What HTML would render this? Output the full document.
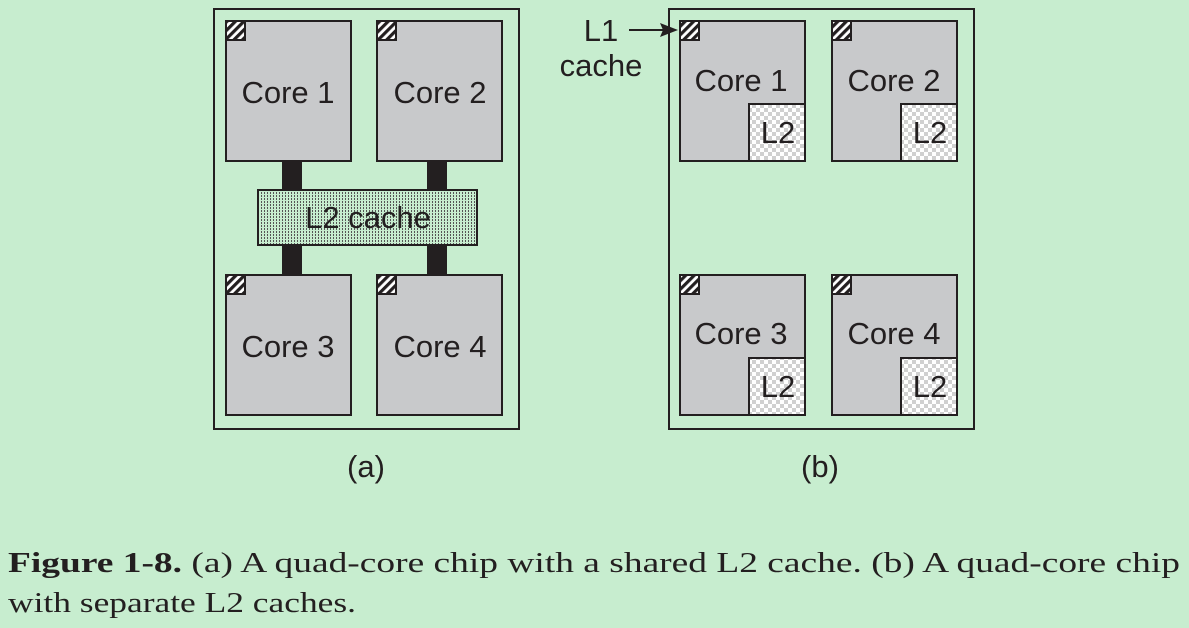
<!DOCTYPE html>
<html><head><meta charset="utf-8"><style>
html,body{margin:0;padding:0;background:#c7edcf;}
svg{display:block}
</style></head><body>
<svg width="1189" height="628" viewBox="0 0 1189 628" xmlns="http://www.w3.org/2000/svg">
<defs>
<pattern id="hatch" width="6" height="6" patternUnits="userSpaceOnUse" patternTransform="rotate(45)">
<rect width="6" height="6" fill="#fff"/><rect width="3.2" height="6" fill="#231f20"/>
</pattern>
<pattern id="dots" width="3" height="3" patternUnits="userSpaceOnUse">
<rect width="3" height="3" fill="#c7edcf"/><rect width="1" height="2" fill="#555"/>
</pattern>
<pattern id="check" width="8" height="8" patternUnits="userSpaceOnUse">
<rect width="8" height="8" fill="#fff"/><rect width="4" height="4" fill="#d0d0d0"/><rect x="4" y="4" width="4" height="4" fill="#d0d0d0"/>
</pattern>
</defs>
<rect width="1189" height="628" fill="#c7edcf"/>
<g stroke="#231f20" stroke-width="2" fill="none">
<rect x="214" y="9" width="305" height="420"/>
<rect x="669" y="9" width="305" height="420"/>
</g>
<g fill="#231f20">
<rect x="282" y="160" width="20" height="116"/>
<rect x="427" y="160" width="20" height="116"/>
</g>
<g stroke="#231f20" stroke-width="2" fill="#c8c9cb">
<rect x="226" y="21" width="125" height="140"/>
<rect x="377" y="21" width="125" height="140"/>
<rect x="226" y="275" width="125" height="140"/>
<rect x="377" y="275" width="125" height="140"/>
<rect x="680" y="21" width="125" height="140"/>
<rect x="832" y="21" width="125" height="140"/>
<rect x="680" y="275" width="125" height="140"/>
<rect x="832" y="275" width="125" height="140"/>
</g>
<rect x="258" y="190" width="219" height="55" fill="url(#dots)" stroke="#231f20" stroke-width="2"/>
<g stroke="#231f20" stroke-width="2" fill="url(#check)">
<rect x="749" y="104" width="56" height="57"/>
<rect x="901" y="104" width="56" height="57"/>
<rect x="749" y="358" width="56" height="57"/>
<rect x="901" y="358" width="56" height="57"/>
</g>
<g stroke="#231f20" stroke-width="2" fill="url(#hatch)">
<rect x="226" y="21" width="19" height="19"/>
<rect x="377" y="21" width="19" height="19"/>
<rect x="226" y="275" width="19" height="19"/>
<rect x="377" y="275" width="19" height="19"/>
<rect x="680" y="21" width="19" height="19"/>
<rect x="832" y="21" width="19" height="19"/>
<rect x="680" y="275" width="19" height="19"/>
<rect x="832" y="275" width="19" height="19"/>
</g>
<line x1="629" y1="30" x2="664" y2="30" stroke="#231f20" stroke-width="2"/>
<polygon points="678,30 660,23 663,30 660,37" fill="#231f20"/>
<g font-family="Liberation Sans, sans-serif" font-size="31" fill="#231f20" text-anchor="middle">
<text x="288" y="103">Core 1</text>
<text x="440" y="103">Core 2</text>
<text x="288" y="357">Core 3</text>
<text x="440" y="357">Core 4</text>
<text x="368" y="228">L2 cache</text>
<text x="741" y="91">Core 1</text>
<text x="894" y="91">Core 2</text>
<text x="741" y="344">Core 3</text>
<text x="894" y="344">Core 4</text>
<text x="778" y="143">L2</text>
<text x="930" y="143">L2</text>
<text x="778" y="397">L2</text>
<text x="930" y="397">L2</text>
<text x="601" y="41">L1</text>
<text x="601" y="76">cache</text>
<text x="366" y="477">(a)</text>
<text x="820" y="477">(b)</text>
</g>
<g font-family="Liberation Serif, serif" font-size="28" fill="#231f20">
<text x="8" y="572" textLength="1172" lengthAdjust="spacingAndGlyphs"><tspan font-weight="bold">Figure 1-8.</tspan>  (a) A quad-core chip with a shared L2 cache.  (b) A quad-core chip</text>
<text x="8" y="612" textLength="348" lengthAdjust="spacingAndGlyphs">with separate L2 caches.</text>
</g>
</svg>
</body></html>
